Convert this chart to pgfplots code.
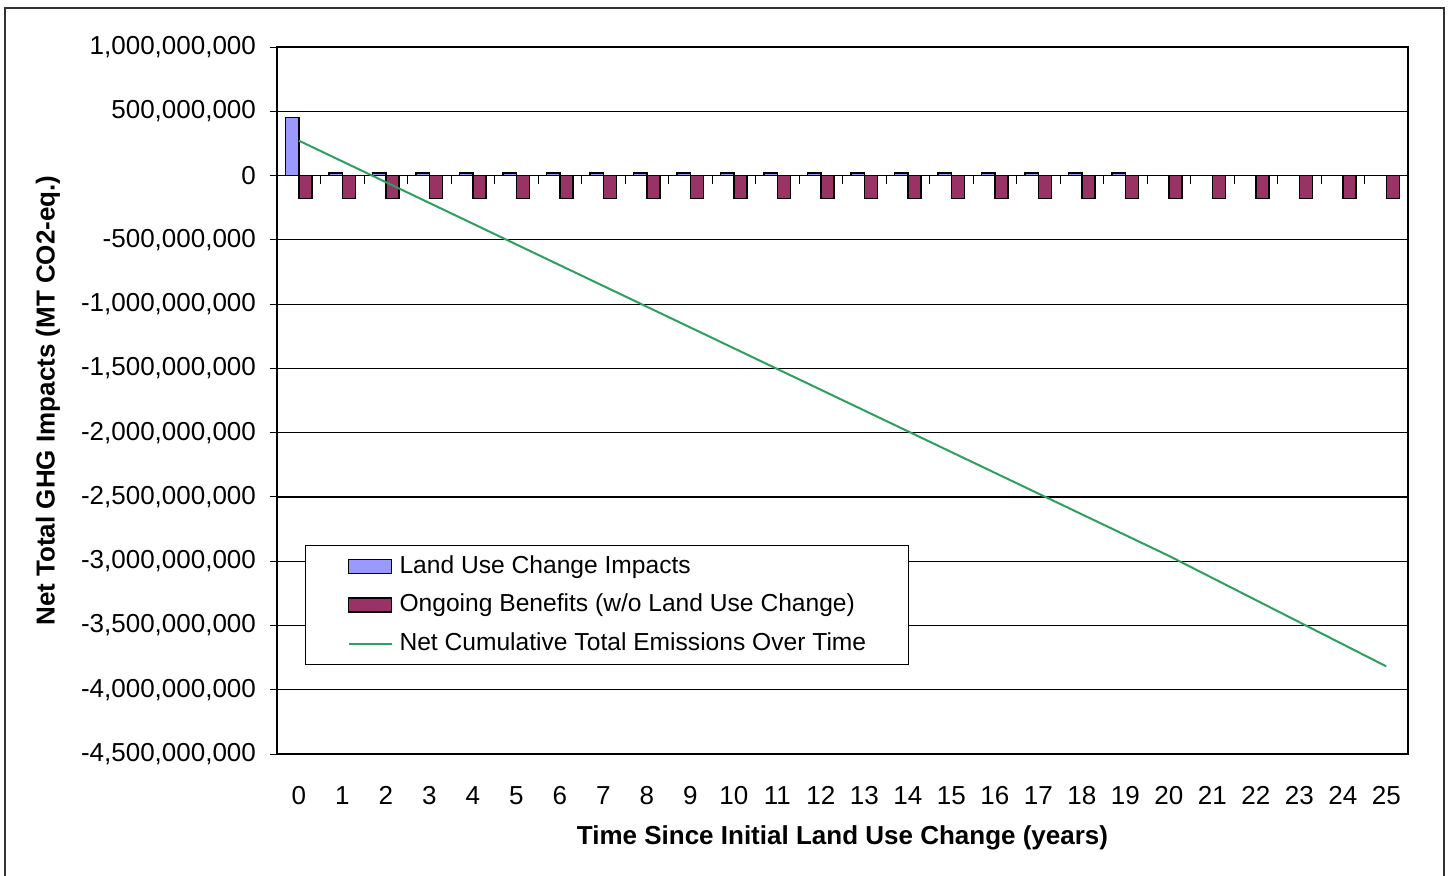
\documentclass[border=0pt]{standalone}
\usepackage{pgfplots}
\usepackage{pgfplotstable}
\pgfplotsset{compat=1.18}
\usepackage{fontspec}
\setmainfont{Liberation Sans}
\definecolor{lucblue}{RGB}{153,153,255}
\definecolor{ongoing}{RGB}{153,51,102}
\definecolor{netgreen}{RGB}{45,160,95}

\pgfplotsset{
  barlegend/.style={legend image code/.code={\draw[##1] (0pt,-3.5pt) rectangle (21.5pt,3.5pt);}},
  linelegend/.style={legend image code/.code={\draw[##1] (0pt,0pt) -- (21.5pt,0pt);}},
}

\pgfplotstableread{
year luc
0 453000000
1 18000000
2 18000000
3 18000000
4 18000000
5 18000000
6 18000000
7 18000000
8 18000000
9 18000000
10 18000000
11 18000000
12 18000000
13 18000000
14 18000000
15 18000000
16 18000000
17 18000000
18 18000000
19 18000000
}\lucdata

\pgfplotstableread{
year ben
0 -180000000
1 -180000000
2 -180000000
3 -180000000
4 -180000000
5 -180000000
6 -180000000
7 -180000000
8 -180000000
9 -180000000
10 -180000000
11 -180000000
12 -180000000
13 -180000000
14 -180000000
15 -180000000
16 -180000000
17 -180000000
18 -180000000
19 -180000000
20 -180000000
21 -180000000
22 -180000000
23 -180000000
24 -180000000
25 -180000000
}\bendata

\pgfplotstableread{
year net
0 272000000
1 110500000
2 -51000000
3 -212500000
4 -374000000
5 -535500000
6 -697000000
7 -858500000
8 -1020000000
9 -1181500000
10 -1343000000
11 -1504500000
12 -1666000000
13 -1827500000
14 -1989000000
15 -2150500000
16 -2312000000
17 -2473500000
18 -2635000000
19 -2796500000
20 -2958000000
21 -3130000000
22 -3302000000
23 -3474000000
24 -3646000000
25 -3818000000
}\netdata

\begin{document}
\begin{tikzpicture}[x=1pt,y=1pt]
\useasboundingbox (0,0) rectangle (725,437.5);
\draw[line width=1pt, black!80] (2.5,-5) -- (2.5,433.5) -- (722,433.5) -- (722,-5);
\begin{axis}[
  at={(138.5pt,60.5pt)}, anchor=south west,
  scale only axis, width=565.5pt, height=353.5pt,
  xmin=-0.5, xmax=25.5,
  ymin=-4500000000, ymax=1000000000,
  xtick={0,...,25},
  xtick style={draw=none},
  ytick={-4500000000,-4000000000,-3500000000,-3000000000,-2500000000,-2000000000,-1500000000,-1000000000,-500000000,0,500000000,1000000000},
  ytick pos=left, tick align=outside,
  major tick length=3.5pt,
  ytick style={black, line width=0.5pt},
  ymajorgrids, grid style={black, line width=0.6pt},
  scaled y ticks=false,
  /pgf/number format/fixed,
  /pgf/number format/1000 sep={,},
  /pgf/number format/assume math mode=true,
  yticklabel style={xshift=-3.5pt},
  xticklabel style={yshift=-8.5pt, text height=9.5pt, text depth=0pt},
  tick label style={font=\fontsize{13}{15}\selectfont},
  label style={font=\bfseries\fontsize{13}{15}\selectfont},
  axis line style={black, line width=0.6pt},
  xlabel={Time Since Initial Land Use Change (years)},
  ylabel={Net Total GHG Impacts (MT CO2-eq.)},
  xlabel style={at={(axis description cs:0.5,-0.119)}, anchor=center},
  ylabel style={at={(axis description cs:-0.2025,0.5)}, anchor=center},
  legend style={at={(0.0248,0.2956)}, anchor=north west, draw=black, line width=0.5pt, fill=white,
    inner xsep=21pt, inner ysep=4.5pt, row sep=7.5pt, column sep=3.5pt,
    font=\fontsize{12.3}{14}\selectfont,
    nodes={inner sep=0pt, text height=9.3pt, text depth=2.5pt}},
  legend cell align=left,
]
\addplot[ybar, bar width=6.6pt, bar shift=-3.3pt, fill=lucblue, draw=black, line width=0.75pt, barlegend]
  table[x=year, y=luc] {\lucdata};
\addlegendentry{Land Use Change Impacts}
\addplot[ybar, bar width=6.6pt, bar shift=3.3pt, fill=ongoing, draw=black, line width=0.75pt, barlegend]
  table[x=year, y=ben] {\bendata};
\addlegendentry{Ongoing Benefits (w/o Land Use Change)}
\pgfplotsinvokeforeach{0,...,24}{
  \draw[black, line width=0.5pt] (axis cs:#1.5,0) -- ([yshift=-4pt]axis cs:#1.5,0);
}
\addplot[netgreen, line width=1pt, mark=none, linelegend]
  table[x=year, y=net] {\netdata};
\addlegendentry{Net Cumulative Total Emissions Over Time}
\end{axis}
\end{tikzpicture}
\end{document}
